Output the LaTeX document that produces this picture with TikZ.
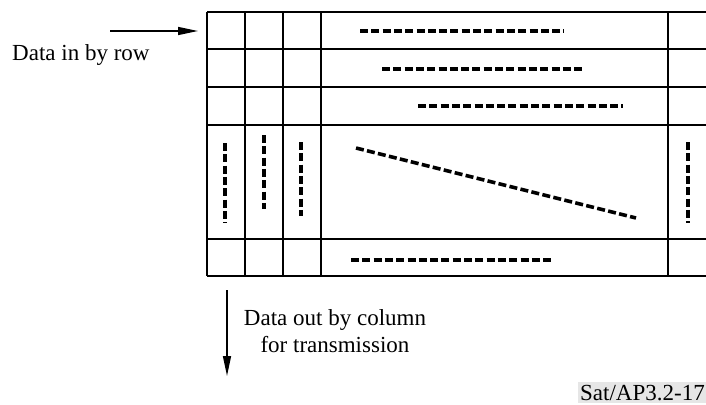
\documentclass[tikz,border=0pt]{standalone}
\usepackage{fontspec}
\setmainfont{Liberation Serif}
\usepackage{tikz}
\usetikzlibrary{arrows.meta,positioning}
\definecolor{taggray}{HTML}{E6E6E6}

\begin{document}
\begin{tikzpicture}[
  x=1pt, y=-1pt,
  gridline/.style={line width=2pt},
  datadash/.style={line width=3.6pt, dash pattern=on 8pt off 3.3pt},
  arrow/.style={-{Triangle[length=20pt, width=8pt]}, line width=1.5pt},
  lbl/.style={font=\fontsize{23}{27}\selectfont, inner sep=0pt},
  tag/.style={lbl, fill=taggray, inner xsep=2pt, inner ysep=3pt},
]
\clip (0,0) rectangle (706,404);

% ── Interleaver matrix ──
\foreach \y in {12,49,87,125,239,276}
  \draw[gridline] (207,\y) -- (720,\y);
\foreach \x in {207,245,283,321,668}
  \draw[gridline] (\x,12) -- (\x,276);

% Rows written in
\draw[datadash] (360,31) -- (564,31);
\draw[datadash] (382,69) -- (585,69);
\draw[datadash] (418,106) -- (623,106);
\draw[datadash] (356,148) -- (636,218);
\draw[datadash] (351,260) -- (552,260);

% Columns read out
\draw[datadash] (225,143) -- (225,223);
\draw[datadash] (264,135) -- (264,209);
\draw[datadash] (301,142) -- (301,216);
\draw[datadash] (688,142) -- (688,223);

% ── Input ──
\coordinate (inS) at (110,31);
\coordinate (inE) at (198,31);
\draw[arrow] (inS) -- (inE);
\node[lbl, anchor=base west] (inlbl) at (12,60) {Data in by row};

% ── Output ──
\coordinate (outS) at (227,290);
\coordinate (outE) at (227,376);
\draw[arrow] (outS) -- (outE);
\node[lbl, align=center, anchor=north] (outlbl) at (335,309.5) {Data out by column\\for transmission};

\node[tag, anchor=base west] (figref) at (578,400) {Sat/AP3.2-17};

\end{tikzpicture}
\end{document}
